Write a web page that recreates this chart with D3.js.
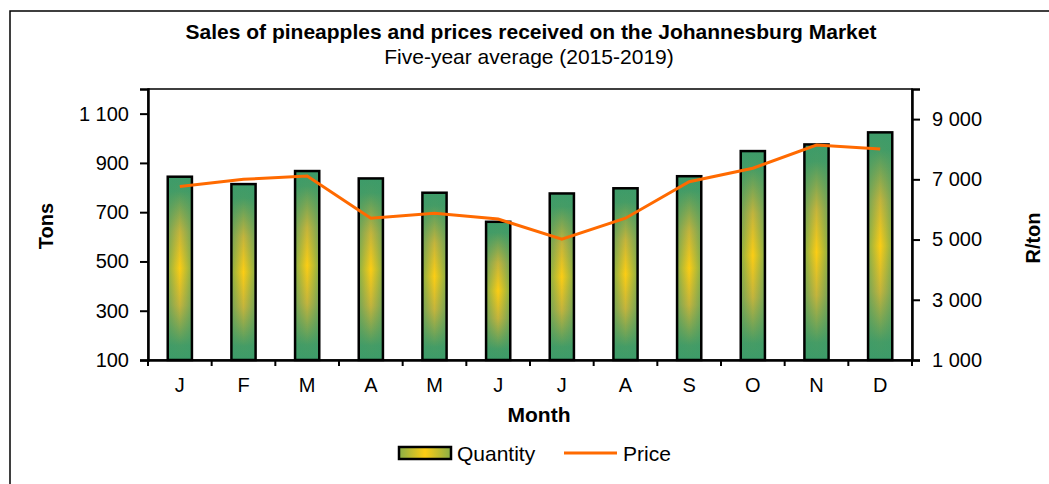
<!DOCTYPE html>
<html>
<head>
<meta charset="utf-8">
<script src="https://cdn.jsdelivr.net/npm/d3@7"></script>
<style>
  body { margin: 0; background: #fff; }
  svg { display: block; font-family: "Liberation Sans", Arial, sans-serif; }
</style>
</head>
<body>
<svg id="chart" width="1049" height="484"></svg>
<script>
// monthly values
const months = ["J", "F", "M", "A", "M", "J", "J", "A", "S", "O", "N", "D"];
const quantity = [844, 814, 867, 837, 779, 661, 776, 797, 846, 948, 975, 1024];
const price = [6760, 7000, 7110, 5710, 5870, 5680, 5010, 5710, 6920, 7370, 8140, 8010];
const tonTicks = [100, 300, 500, 700, 900, 1100];
const priceTicks = [1000, 3000, 5000, 7000, 9000];

const svg = d3.select("#chart");
const plotLeft = 148, plotRight = 912, plotTop = 89, plotBottom = 360;

// space as thousands separator
const fmt = d => d3.format(",")(d).replace(/,/g, " ");

// outer chart border (runs off the right and bottom edge)
svg.append("rect")
  .attr("x", 10).attr("y", 11)
  .attr("width", 1100).attr("height", 600)
  .attr("fill", "none").attr("stroke", "#000").attr("stroke-width", 1.5);

// gradients for bars
const defs = svg.append("defs");
const vg = defs.append("linearGradient").attr("id", "barV")
  .attr("x1", 0).attr("y1", 0).attr("x2", 0).attr("y2", 1);
vg.append("stop").attr("offset", "0%").attr("stop-color", "#3d9b69");
vg.append("stop").attr("offset", "8%").attr("stop-color", "#469c65");
vg.append("stop").attr("offset", "30%").attr("stop-color", "#c4b43c");
vg.append("stop").attr("offset", "50%").attr("stop-color", "#fccd14");
vg.append("stop").attr("offset", "70%").attr("stop-color", "#c4b43c");
vg.append("stop").attr("offset", "92%").attr("stop-color", "#469c65");
vg.append("stop").attr("offset", "100%").attr("stop-color", "#3d9b69");
const hg = defs.append("linearGradient").attr("id", "barH")
  .attr("x1", 0).attr("y1", 0).attr("x2", 1).attr("y2", 0);
hg.append("stop").attr("offset", "0%").attr("stop-color", "#3d9b69").attr("stop-opacity", 0.6);
hg.append("stop").attr("offset", "50%").attr("stop-color", "#3d9b69").attr("stop-opacity", 0);
hg.append("stop").attr("offset", "100%").attr("stop-color", "#3d9b69").attr("stop-opacity", 0.6);

const x = d3.scaleBand()
  .domain(d3.range(months.length))
  .range([plotLeft, plotRight]);

const y = d3.scaleLinear()
  .domain([100, 1200])
  .range([plotBottom, plotTop]);

const y2 = d3.scaleLinear()
  .domain([1000, 10000])
  .range([plotBottom, plotTop]);

// plot box
svg.append("rect")
  .attr("x", plotLeft).attr("y", plotTop)
  .attr("width", plotRight - plotLeft).attr("height", plotBottom - plotTop)
  .attr("fill", "none").attr("stroke", "#000").attr("stroke-width", 1.5);

// Quantity bars
const barW = x.bandwidth() * 0.38;
const bars = svg.append("g");
bars.selectAll("rect.v")
  .data(quantity)
  .enter()
  .append("rect")
  .attr("class", "v")
  .attr("x", (d, i) => x(i) + (x.bandwidth() - barW) / 2)
  .attr("y", d => y(d))
  .attr("width", barW)
  .attr("height", d => y(100) - y(d))
  .attr("fill", "url(#barV)");
bars.selectAll("rect.h")
  .data(quantity)
  .enter()
  .append("rect")
  .attr("class", "h")
  .attr("x", (d, i) => x(i) + (x.bandwidth() - barW) / 2)
  .attr("y", d => y(d))
  .attr("width", barW)
  .attr("height", d => y(100) - y(d))
  .attr("fill", "url(#barH)")
  .attr("stroke", "#000")
  .attr("stroke-width", 2.5);

// Price line
svg.append("path")
  .datum(price)
  .attr("fill", "none")
  .attr("stroke", "#ff6a00")
  .attr("stroke-width", 3)
  .attr("d", d3.line()
    .x((d, i) => x(i) + x.bandwidth() / 2)
    .y(d => y2(d)));

// axes
const xAxis = svg.append("g")
  .attr("transform", "translate(0," + plotBottom + ")")
  .call(d3.axisBottom(x).tickSize(0).tickFormat(i => months[i]).tickPadding(18));
xAxis.select(".domain").attr("stroke-width", 2.5);
xAxis.selectAll("text").attr("font-size", 20).attr("fill", "#000");
// ticks between categories
svg.append("g").selectAll("line")
  .data(d3.range(months.length + 1))
  .enter()
  .append("line")
  .attr("x1", i => plotLeft + i * x.step()).attr("x2", i => plotLeft + i * x.step())
  .attr("y1", plotBottom).attr("y2", plotBottom + 6)
  .attr("stroke", "#000").attr("stroke-width", 2);

const yAxis = svg.append("g")
  .attr("transform", "translate(" + plotLeft + ",0)")
  .call(d3.axisLeft(y).tickValues(tonTicks).tickFormat(fmt).tickSize(8).tickPadding(11));
yAxis.select(".domain").attr("stroke-width", 2.5);
yAxis.selectAll("line").attr("stroke-width", 2);
yAxis.selectAll("text").attr("font-size", 20).attr("fill", "#000");

const y2Axis = svg.append("g")
  .attr("transform", "translate(" + plotRight + ",0)")
  .call(d3.axisRight(y2).tickValues(priceTicks).tickFormat(fmt).tickSize(8).tickPadding(12));
y2Axis.select(".domain").attr("stroke-width", 2.5);
y2Axis.selectAll("line").attr("stroke-width", 2);
y2Axis.selectAll("text").attr("font-size", 20).attr("fill", "#000");

// titles
svg.append("text")
  .attr("x", 531).attr("y", 39)
  .attr("text-anchor", "middle")
  .attr("font-size", 21).attr("font-weight", "bold")
  .text("Sales of pineapples and prices received on the Johannesburg Market");
svg.append("text")
  .attr("x", 529).attr("y", 64)
  .attr("text-anchor", "middle")
  .attr("font-size", 21)
  .text("Five-year average (2015-2019)");

svg.append("text")
  .attr("x", (plotLeft + plotRight) / 2 + 9).attr("y", 422)
  .attr("text-anchor", "middle")
  .attr("font-size", 21).attr("font-weight", "bold")
  .text("Month");

svg.append("text")
  .attr("transform", "translate(53,226) rotate(-90)")
  .attr("text-anchor", "middle")
  .attr("font-size", 20).attr("font-weight", "bold")
  .text("Tons");

svg.append("text")
  .attr("transform", "translate(1040,238) rotate(-90)")
  .attr("text-anchor", "middle")
  .attr("font-size", 20).attr("font-weight", "bold")
  .text("R/ton");

// legend
const legend = svg.append("g");
legend.append("rect")
  .attr("x", 399).attr("y", 447).attr("width", 52).attr("height", 12)
  .attr("fill", "#fccd14");
legend.append("rect")
  .attr("x", 399).attr("y", 447).attr("width", 52).attr("height", 12)
  .attr("fill", "url(#barH)")
  .attr("stroke", "#000").attr("stroke-width", 2.5);
legend.append("text")
  .attr("x", 457).attr("y", 461)
  .attr("font-size", 21)
  .text("Quantity");
legend.append("line")
  .attr("x1", 564).attr("x2", 617).attr("y1", 453).attr("y2", 453)
  .attr("stroke", "#ff6a00").attr("stroke-width", 3);
legend.append("text")
  .attr("x", 623).attr("y", 461)
  .attr("font-size", 21)
  .text("Price");
</script>
</body>
</html>
